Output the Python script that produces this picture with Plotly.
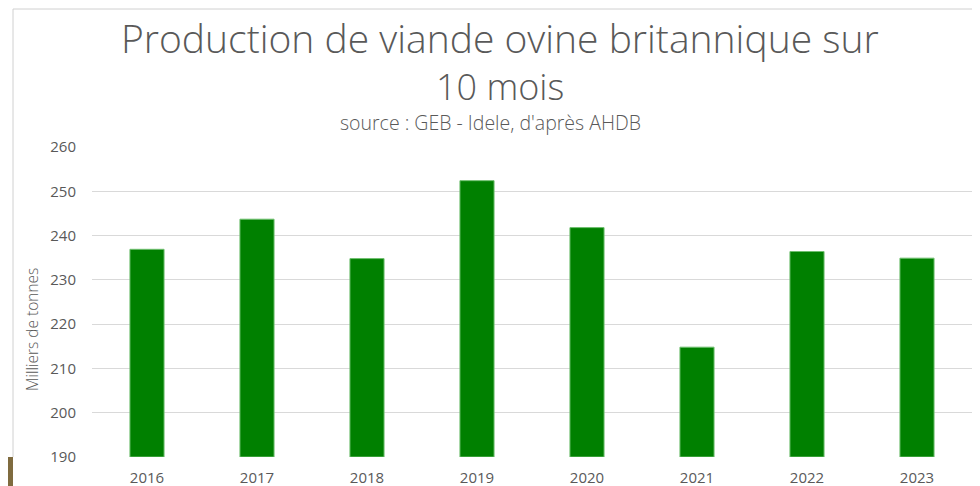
import plotly.graph_objects as go

years = ["2016", "2017", "2018", "2019", "2020", "2021", "2022", "2023"]
production = [236.9, 243.7, 234.8, 252.4, 241.8, 214.8, 236.4, 234.9]
y_ticks = [190, 200, 210, 220, 230, 240, 250, 260]
BASE = 190

title_line1 = "Production de viande ovine britannique sur"
title_line2 = "10 mois"
subtitle_text = "source : GEB - Idele, d'après AHDB"
y_title = "Milliers de tonnes"

FONT = "Open Sans"
GREY = "#595959"

# screen-space plot box (reference): x 92..972, y 147..457
PX0, PX1, PY0, PY1 = 92, 972, 147, 457
def px(x):
    return (x - PX0) / (PX1 - PX0)
def py(y):
    return (PY1 - y) / (PY1 - PY0)

fig = go.Figure()
fig.add_trace(go.Bar(
    x=years, y=[v - BASE for v in production], base=BASE,
    marker=dict(color="#008000", line=dict(color="#6fbf6f", width=1)),
    width=0.31,
))

fig.update_layout(
    width=980, height=486,
    paper_bgcolor="white", plot_bgcolor="white",
    margin=dict(l=84, r=16, t=139, b=37, autoexpand=False),
    showlegend=False,
    font=dict(family=FONT, color=GREY, size=14),
    xaxis=dict(showgrid=False, showline=False, ticks="", ticklabelstandoff=10,
               tickfont=dict(size=15, color=GREY)),
    yaxis=dict(range=[190, 260], tickvals=y_ticks, showgrid=True,
               gridcolor="#d9d9d9", gridwidth=1, zeroline=False, showline=False,
               ticks="", ticklabelstandoff=15, tickfont=dict(size=15, color=GREY)),
    annotations=[
        dict(text=title_line1, x=px(500), y=py(37), xanchor="center", yanchor="middle",
             xref="paper", yref="paper", showarrow=False,
             font=dict(size=39, color=GREY, family=FONT, weight=300)),
        dict(text=title_line2, x=px(500), y=py(87), xanchor="center", yanchor="middle",
             xref="paper", yref="paper", showarrow=False,
             font=dict(size=36, color=GREY, family=FONT, weight=300)),
        dict(text=subtitle_text, xref="paper", yref="paper", x=px(490), y=py(122),
             xanchor="center", yanchor="middle", showarrow=False,
             font=dict(size=19.5, color=GREY, family=FONT, weight=300)),
        dict(text=y_title, xref="paper", yref="paper", x=px(32), y=py(330),
             xanchor="center", yanchor="middle", textangle=-90, showarrow=False,
             font=dict(size=15.5, color=GREY, family=FONT, weight=300)),
    ],
    shapes=[
        dict(type="line", xref="paper", yref="paper", x0=px(13), x1=px(990), y0=py(9), y1=py(9),
             line=dict(color="#d0d0d0", width=1)),
        dict(type="line", xref="paper", yref="paper", x0=px(13), x1=px(13), y0=py(9), y1=py(457),
             line=dict(color="#d0d0d0", width=1)),
        dict(type="rect", xref="paper", yref="paper", x0=px(-2), x1=px(13), y0=py(457), y1=py(490),
             fillcolor="#7f6b3f", line=dict(width=0)),
    ],
)

fig.write_html("out.html")
